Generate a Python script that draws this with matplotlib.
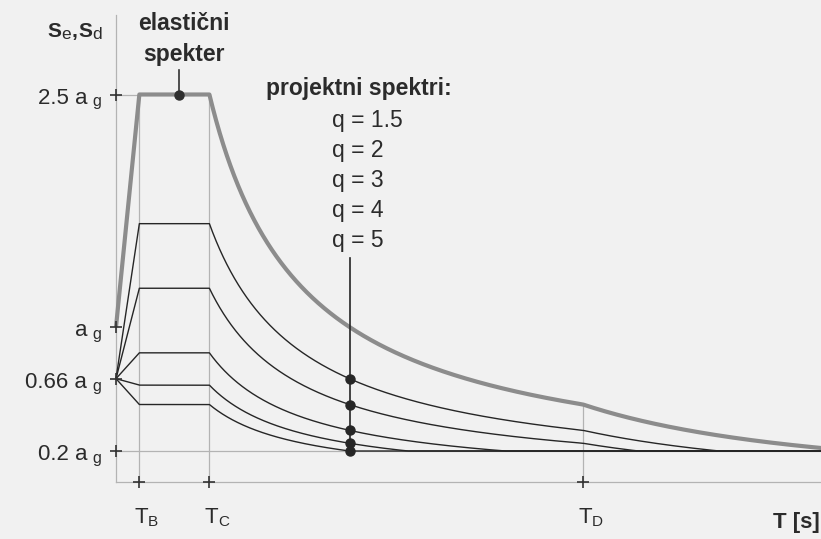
import numpy as np
import matplotlib
matplotlib.use("Agg")
import matplotlib.pyplot as plt

plt.rcParams['font.family'] = ['Liberation Sans', 'DejaVu Sans']

# ---- data ----
corner_periods = [0.1, 0.4, 2.0]          # T_B, T_C, T_D  [s]
corner_subs = ["B", "C", "D"]
t_max = 3.02
q_values = [1.5, 2, 3, 4, 5]
q_labels = ["q = 1.5", "q = 2", "q = 3", "q = 4", "q = 5"]
plateau_factor = 2.5      # 2.5 a_g
elastic_start = 1.0       # a_g at T = 0
design_start = 2.0 / 3.0  # 0.66 a_g at T = 0
lower_bound = 0.2         # 0.2 a_g
y_tick_values = [2.5, 1.0, 2.0 / 3.0, 0.2]
y_tick_prefix = ["2.5 a", "a", "0.66 a", "0.2 a"]
elastic_marker_T = 0.27
design_marker_T = 1.0

TB, TC, TD = corner_periods
W, H = 821, 539


def elastic(T):
    T = np.asarray(T, dtype=float)
    Ts = np.maximum(T, 1e-9)
    return np.where(T < TB, elastic_start + T / TB * (plateau_factor - elastic_start),
           np.where(T < TC, plateau_factor,
           np.where(T < TD, plateau_factor * TC / Ts,
                    plateau_factor * TC * TD / Ts ** 2)))


def design(T, q):
    T = np.asarray(T, dtype=float)
    Ts = np.maximum(T, 1e-9)
    p = plateau_factor / q
    return np.where(T < TB, design_start + T / TB * (p - design_start),
           np.where(T < TC, p,
           np.where(T < TD, np.maximum(p * TC / Ts, lower_bound),
                    np.maximum(p * TC * TD / Ts ** 2, lower_bound))))


T = np.unique(np.concatenate([np.linspace(0, t_max, 2000), corner_periods]))

fig = plt.figure(figsize=(8.21, 5.39), dpi=100)
fig.patch.set_facecolor('#f1f1f1')
ax = fig.add_axes([0, 0, 1, 1])
ax.set_facecolor('#f1f1f1')
ax.set_xlim(-116 / 233.5, (821 - 116) / 233.5)
ax.set_ylim(-(539 - 482) / 155, 482 / 155)
ax.axis('off')

light = '#b3b3b3'
dark = '#262626'
txt = '#2b2b2b'

# light construction lines
ax.plot([0, 0], [0, 3.01], color=light, lw=0.9, zorder=1)
ax.plot([0, t_max], [0, 0], color=light, lw=0.9, zorder=1)
ax.plot([0, t_max], [lower_bound, lower_bound], color=light, lw=0.9, zorder=1)
ax.plot([0, TB], [plateau_factor, plateau_factor], color=light, lw=0.9, zorder=1)
for tc in [TB, TC]:
    ax.plot([tc, tc], [0, plateau_factor], color=light, lw=0.9, zorder=1)
ax.plot([TD, TD], [0, elastic(TD).item()], color=light, lw=0.9, zorder=1)

# design spectra
for q in q_values:
    ax.plot(T, design(T, q), color=dark, lw=1.0, zorder=3)

# elastic spectrum
ax.plot(T, elastic(T), color='#8c8c8c', lw=3.0, zorder=4, solid_capstyle='butt')

# markers
em = elastic(elastic_marker_T).item()
ax.plot([elastic_marker_T, elastic_marker_T], [em, 2.66], color='#333333', lw=1.2, zorder=5)
ax.plot([elastic_marker_T], [em], 'o', color='#2e2e2e', ms=6.5, zorder=6)
dvals = [design(design_marker_T, q).item() for q in q_values]
ax.plot([design_marker_T, design_marker_T], [min(dvals), 1.445], color='#262626', lw=1.2, zorder=5)
ax.plot([design_marker_T] * len(dvals), dvals, 'o', color='#262626', ms=6.5, zorder=6)

# tick crosses
ax.plot([0] * len(y_tick_values), y_tick_values, '+', color='#333333', ms=9, mew=1.2, zorder=5)
ax.plot(corner_periods, [0] * 3, '+', color='#333333', ms=9, mew=1.2, zorder=5)

renderer = fig.canvas.get_renderer()


def put_runs(x_px, base_px, parts, align='left'):
    """parts: (string, fontsize, weight, drop_px, gap_before_px)"""
    objs = []
    for s, size, weight, drop, gap in parts:
        t = fig.text(0, 0, s, fontsize=size, fontweight=weight, color=txt,
                     ha='left', va='baseline')
        w = t.get_window_extent(renderer).width
        objs.append((t, w, drop, gap))
    total = sum(w + gap for _, w, _, gap in objs)
    x = x_px - total if align == 'right' else x_px
    for t, w, drop, gap in objs:
        x += gap
        t.set_position((x / W, 1 - (base_px + drop) / H))
        x += w


def to_px(xd, yd):
    xp, yp = ax.transData.transform((xd, yd))
    return xp, H - yp


# y tick labels
for v, pre in zip(y_tick_values, y_tick_prefix):
    xp, yp = to_px(0, v)
    put_runs(xp - 15, yp + 9, [(pre, 16, 'normal', 0, 0), ("g", 11.5, 'normal', 3, 5)],
             align='right')

# x tick labels
for v, sub in zip(corner_periods, corner_subs):
    xp, yp = to_px(v, 0)
    put_runs(xp - 5, yp + 41, [("T", 16, 'normal', 0, 0), (sub, 11, 'normal', 3, 0)])

put_runs(773, 528, [("T [s]", 16, 'bold', 0, 0)])
put_runs(47, 37, [("S", 15, 'bold', 0, 0), ("e", 12.5, 'normal', 2, 0),
                  (",", 15, 'bold', 0, 1), ("S", 15, 'bold', 0, 1),
                  ("d", 12.5, 'normal', 2, 0)])

ax.text(184 / W, 1 - 30 / H, "elastični", transform=fig.transFigure,
        ha='center', va='baseline', fontsize=16.5, fontweight='bold', color=txt)
ax.text(184 / W, 1 - 61 / H, "spekter", transform=fig.transFigure,
        ha='center', va='baseline', fontsize=16.5, fontweight='bold', color=txt)
ax.text(359 / W, 1 - 95 / H, "projektni spektri:", transform=fig.transFigure,
        ha='center', va='baseline', fontsize=16.5, fontweight='bold', color=txt)
for i, lab in enumerate(q_labels):
    ax.text(332 / W, 1 - (127 + 30 * i) / H, lab, transform=fig.transFigure,
            ha='left', va='baseline', fontsize=16.5, color=txt)

fig.savefig('out.png', dpi=100, facecolor=fig.get_facecolor())
